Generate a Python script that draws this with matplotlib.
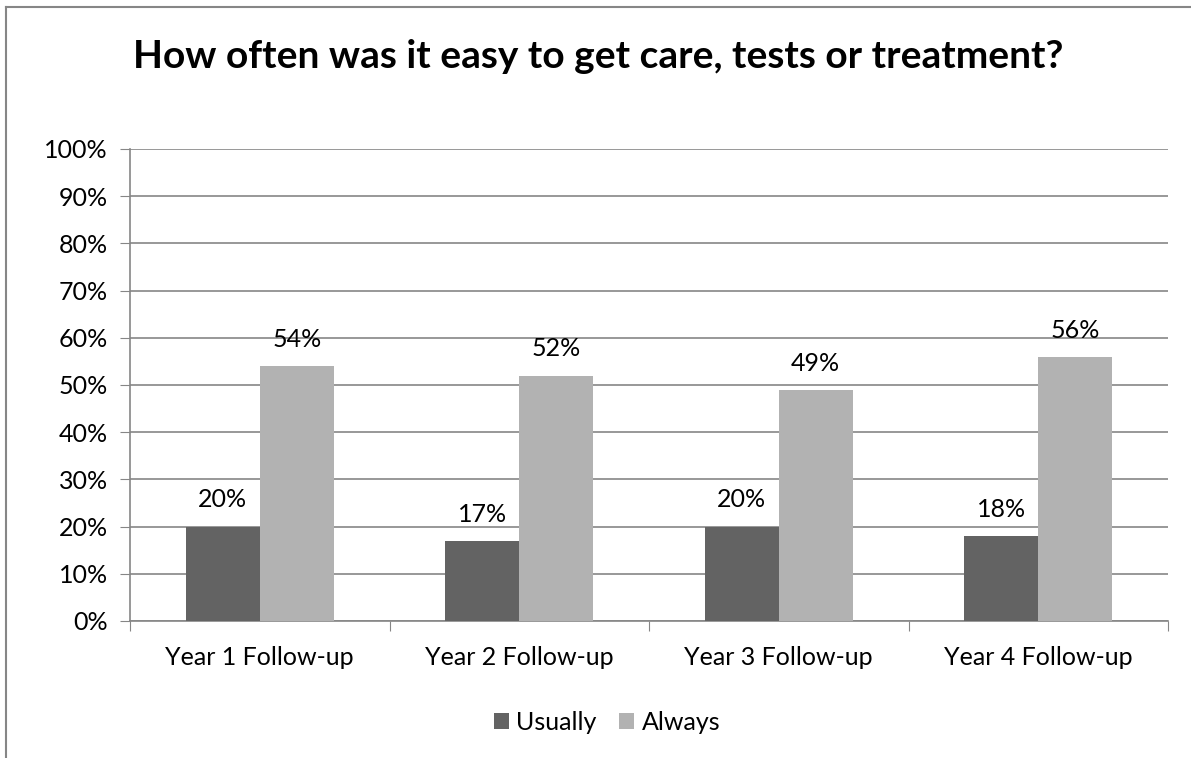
"""Grouped bar chart: how often was it easy to get care, tests or treatment."""
import numpy as np
import matplotlib
matplotlib.use("Agg")
import matplotlib.pyplot as plt
from matplotlib.lines import Line2D

categories = ["Year 1 Follow-up", "Year 2 Follow-up", "Year 3 Follow-up", "Year 4 Follow-up"]
usually = [20, 17, 20, 18]
always = [54, 52, 49, 56]
series_names = ["Usually", "Always"]

W, H = 1191, 758
FS = 18
plt.rcParams["font.family"] = ["Lato", "DejaVu Sans"]

fig = plt.figure(figsize=(W / 100, H / 100), dpi=100)
ax = fig.add_axes([130 / W, 1 - 621 / H, (1168 - 130) / W, (621 - 149) / H])

x = np.arange(len(categories))
bw = 0.285
b1 = ax.bar(x - bw / 2, usually, bw, color="#636363", label=series_names[0], zorder=3)
b2 = ax.bar(x + bw / 2, always, bw, color="#b2b2b2", label=series_names[1], zorder=3)

for bars, vals in [(b1, usually), (b2, always)]:
    for b, v in zip(bars, vals):
        ax.text(b.get_x() + b.get_width() / 2, v + 3.2, f"{v}%",
                ha="center", va="bottom", fontsize=FS, color="#000000")

ax.set_xlim(-0.5, len(categories) - 0.5)
ax.set_ylim(0, 100)
ax.set_yticks(range(0, 101, 10))
ax.set_yticklabels([f"{t}%" for t in range(0, 101, 10)], fontsize=FS)
ax.set_xticks(np.arange(-0.5, len(categories), 1.0))
ax.set_xticklabels([])
ax.set_xticks(x, minor=True)
ax.set_xticklabels(categories, minor=True, fontsize=FS)
ax.tick_params(axis="x", which="minor", length=0, pad=18)
ax.tick_params(axis="x", which="major", length=7, color="#868686", direction="out")
ax.tick_params(axis="y", length=7, color="#868686", pad=9)
ax.grid(axis="y", color="#868686", linewidth=1.2, zorder=0)
for s in ["top", "right"]:
    ax.spines[s].set_visible(False)
for s in ["left", "bottom"]:
    ax.spines[s].set_color("#868686")
    ax.spines[s].set_linewidth(1.2)

fig.text(598 / W, 1 - 57 / H, "How often was it easy to get care, tests or treatment?",
         ha="center", va="center", fontsize=28, fontweight="bold")

fig.legend(handles=[b1, b2], labels=series_names, loc="center", bbox_to_anchor=(607 / W, 1 - 722 / H),
           ncol=2, frameon=False, fontsize=FS, handlelength=0.6, handleheight=0.6,
           handletextpad=0.3, columnspacing=0.9)

# chart frame (partially cropped)
fig.add_artist(Line2D([6 / W, 6 / W], [0, 1 - 7 / H], transform=fig.transFigure, color="#868686", lw=1.5))
fig.add_artist(Line2D([6 / W, 1], [1 - 7 / H, 1 - 7 / H], transform=fig.transFigure, color="#868686", lw=1.5))

fig.savefig("out.png", dpi=100)
